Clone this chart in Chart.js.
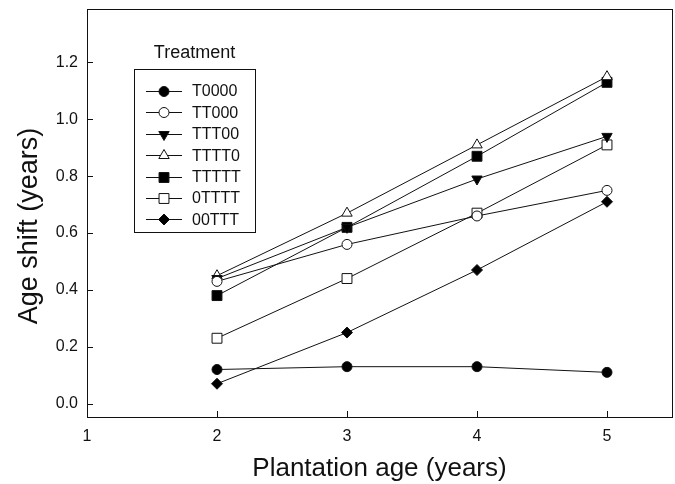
<!DOCTYPE html>
<html>
<head>
<meta charset="utf-8">
<script src="https://cdn.jsdelivr.net/npm/chart.js@4.4.1/dist/chart.umd.min.js"></script>
<style>
  html, body { margin: 0; padding: 0; background: #fff; }
  #wrap { width: 675px; height: 484px; position: relative; }
</style>
</head>
<body>
<div id="wrap"><canvas id="line-chart"></canvas></div>
<script>
// plantation age (years)
const ages = [2, 3, 4, 5];
const xTicks = [1, 2, 3, 4, 5];
const yTicks = [0, 0.2, 0.4, 0.6, 0.8, 1.0, 1.2];

const treatments = ['T0000', 'TT000', 'TTT00', 'TTTT0', 'TTTTT', '0TTTT', '00TTT'];
const t0000 = [0.12, 0.13, 0.13, 0.11];
const tt000 = [0.43, 0.56, 0.66, 0.75];
const ttt00 = [0.44, 0.62, 0.79, 0.94];
const tttt0 = [0.45, 0.67, 0.91, 1.15];
const ttttt = [0.38, 0.62, 0.87, 1.13];
const o_tttt = [0.23, 0.44, 0.67, 0.91];
const oo_ttt = [0.07, 0.25, 0.47, 0.71];

const seriesValues = [t0000, tt000, ttt00, tttt0, ttttt, o_tttt, oo_ttt];
// marker look for each treatment
const markers = [
  { style: 'circle', fill: '#000', r: 5, rot: 0 },
  { style: 'circle', fill: '#fff', r: 5, rot: 0 },
  { style: 'triangle', fill: '#000', r: 6, rot: 180 },
  { style: 'triangle', fill: '#fff', r: 6, rot: 0 },
  { style: 'rect', fill: '#000', r: 7, rot: 0 },
  { style: 'rect', fill: '#fff', r: 7, rot: 0 },
  { style: 'rectRot', fill: '#000', r: 5.5, rot: 0 },
];

const FONT = "'Liberation Sans', Arial, sans-serif";
const INK = '#111';

const datasets = treatments.map((name, i) => ({
  label: name,
  data: ages.map((a, j) => ({ x: a, y: seriesValues[i][j] })),
  borderColor: INK,
  borderWidth: 1,
  pointStyle: markers[i].style,
  pointRadius: markers[i].r,
  pointHoverRadius: markers[i].r,
  pointRotation: markers[i].rot,
  pointBackgroundColor: markers[i].fill,
  pointBorderColor: INK,
  pointBorderWidth: 1,
  tension: 0,
  fill: false,
}));

function drawMarker(ctx, m, x, y) {
  ctx.save();
  ctx.fillStyle = m.fill;
  ctx.strokeStyle = INK;
  ctx.lineWidth = 1;
  ctx.beginPath();
  if (m.style === 'circle') {
    ctx.arc(x, y, m.r, 0, Math.PI * 2);
  } else if (m.style === 'rect') {
    const s = Math.SQRT1_2 * m.r;
    ctx.rect(x - s, y - s, 2 * s, 2 * s);
  } else if (m.style === 'rectRot') {
    ctx.moveTo(x - m.r, y);
    ctx.lineTo(x, y - m.r);
    ctx.lineTo(x + m.r, y);
    ctx.lineTo(x, y + m.r);
    ctx.closePath();
  } else if (m.style === 'triangle') {
    let rad = m.rot * Math.PI / 180;
    ctx.moveTo(x + Math.sin(rad) * m.r, y - Math.cos(rad) * m.r);
    rad += Math.PI * 2 / 3;
    ctx.lineTo(x + Math.sin(rad) * m.r, y - Math.cos(rad) * m.r);
    rad += Math.PI * 2 / 3;
    ctx.lineTo(x + Math.sin(rad) * m.r, y - Math.cos(rad) * m.r);
    ctx.closePath();
  }
  ctx.fill();
  ctx.stroke();
  ctx.restore();
}

// frame, inward tick marks, axis titles and the boxed legend
const framePlugin = {
  id: 'frame',
  afterDraw(chart) {
    const ctx = chart.ctx;
    const a = chart.chartArea;
    const xs = chart.scales.x;
    const ys = chart.scales.y;
    ctx.save();
    ctx.strokeStyle = INK;
    ctx.lineWidth = 1;
    ctx.strokeRect(Math.round(a.left) + 0.5, Math.round(a.top) + 0.5,
      Math.round(a.right - a.left), Math.round(a.bottom - a.top));

    ctx.beginPath();
    xs.ticks.forEach(t => {
      if (t.value === xs.min) return;
      const px = Math.round(xs.getPixelForValue(t.value)) + 0.5;
      ctx.moveTo(px, a.bottom);
      ctx.lineTo(px, a.bottom - 6);
    });
    ys.ticks.forEach(t => {
      const py = Math.round(ys.getPixelForValue(t.value)) + 0.5;
      ctx.moveTo(a.left, py);
      ctx.lineTo(a.left + 6, py);
    });
    ctx.stroke();

    // axis titles
    ctx.fillStyle = INK;
    ctx.textAlign = 'center';
    ctx.textBaseline = 'middle';
    ctx.font = '26px ' + FONT;
    ctx.fillText('Plantation age (years)', (a.left + a.right) / 2, a.bottom + 52);
    ctx.save();
    ctx.translate(30, (a.top + a.bottom) / 2 + 13);
    ctx.rotate(-Math.PI / 2);
    ctx.font = '27px ' + FONT;
    ctx.fillText('Age shift (years)', 0, 0);
    ctx.restore();

    // legend
    const bx = a.left + 47, by = a.top + 60, bw = 121, bh = 163;
    ctx.font = '18px ' + FONT;
    ctx.fillText('Treatment', bx + bw / 2, by - 16);
    ctx.strokeRect(bx + 0.5, by + 0.5, bw, bh);
    ctx.font = '16px ' + FONT;
    ctx.textAlign = 'left';
    treatments.forEach((name, i) => {
      const ry = by + 22 + i * 21.4;
      ctx.beginPath();
      ctx.moveTo(bx + 12, Math.round(ry) + 0.5);
      ctx.lineTo(bx + 48, Math.round(ry) + 0.5);
      ctx.stroke();
      drawMarker(ctx, markers[i], bx + 30, Math.round(ry) + 0.5);
      ctx.fillStyle = INK;
      ctx.fillText(name, bx + 58, ry + 1);
    });
    ctx.restore();
  }
};

const chartEl = document.getElementById('line-chart');
const chart = new Chart(chartEl.getContext('2d'), {
  type: 'line',
  data: { datasets: datasets },
  options: {
    responsive: true,
    maintainAspectRatio: false,
    animation: false,
    events: [],
    layout: { autoPadding: false, padding: { top: 9, right: 3, left: 0, bottom: 0 } },
    plugins: {
      legend: { display: false },
      tooltip: { enabled: false },
    },
    scales: {
      x: {
        type: 'linear',
        min: 1,
        max: 5.5,
        afterBuildTicks: (axis) => { axis.ticks = xTicks.map(v => ({ value: v })); },
        afterFit: (axis) => {
          axis.height = 67;
          axis.paddingLeft = 0;
          axis.paddingRight = 0;
        },
        grid: { display: false, drawTicks: false },
        border: { display: false },
        ticks: {
          padding: 10,
          color: INK,
          font: { family: FONT, size: 16 },
          callback: (v) => String(v),
        },
      },
      y: {
        type: 'linear',
        min: -0.047,
        max: 1.388,
        afterBuildTicks: (axis) => { axis.ticks = yTicks.map(v => ({ value: v })); },
        afterFit: (axis) => {
          axis.width = 87;
          axis.paddingTop = 0;
          axis.paddingBottom = 0;
        },
        grid: { display: false, drawTicks: false },
        border: { display: false },
        ticks: {
          padding: 9,
          color: INK,
          font: { family: FONT, size: 16 },
          callback: (v) => Number(v).toFixed(1),
        },
      },
    },
  },
  plugins: [framePlugin],
});
</script>
</body>
</html>
